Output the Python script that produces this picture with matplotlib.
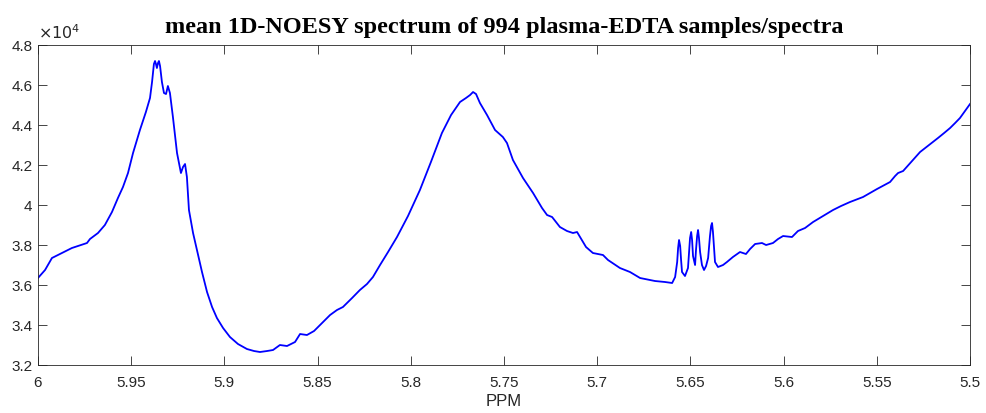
import numpy as np
import matplotlib.pyplot as plt
from matplotlib.ticker import FuncFormatter

# mean spectrum (ppm, intensity)
ppm = [6.0000, 5.9962, 5.9925, 5.9871, 5.9818, 5.9737, 5.9721, 5.9678, 5.9641, 5.9603,
       5.9571, 5.9544, 5.9517, 5.9490, 5.9453, 5.9421, 5.9399, 5.9388, 5.9378, 5.9372,
       5.9367, 5.9362, 5.9356, 5.9351, 5.9345, 5.9335, 5.9324, 5.9313, 5.9303, 5.9292,
       5.9276, 5.9254, 5.9233, 5.9222, 5.9211, 5.9201, 5.9190, 5.9168, 5.9147, 5.9120,
       5.9093, 5.9066, 5.9040, 5.9007, 5.8970, 5.8927, 5.8879, 5.8841, 5.8809, 5.8771,
       5.8739, 5.8702, 5.8664, 5.8621, 5.8594, 5.8557, 5.8519, 5.8487, 5.8433, 5.8396,
       5.8364, 5.8315, 5.8273, 5.8235, 5.8203, 5.8165, 5.8122, 5.8074, 5.8015, 5.7951,
       5.7892, 5.7833, 5.7784, 5.7736, 5.7704, 5.7682, 5.7666, 5.7650, 5.7629, 5.7591,
       5.7548, 5.7506, 5.7484, 5.7452, 5.7398, 5.7344, 5.7296, 5.7269, 5.7242, 5.7200,
       5.7162, 5.7130, 5.7108, 5.7092, 5.7060, 5.7023, 5.6969, 5.6942, 5.6878, 5.6824,
       5.6770, 5.6690, 5.6636, 5.6598, 5.6582, 5.6571, 5.6566, 5.6561, 5.6555, 5.6550,
       5.6545, 5.6529, 5.6513, 5.6507, 5.6502, 5.6496, 5.6491, 5.6486, 5.6475, 5.6470,
       5.6464, 5.6459, 5.6454, 5.6448, 5.6438, 5.6427, 5.6416, 5.6405, 5.6395, 5.6389,
       5.6384, 5.6379, 5.6373, 5.6368, 5.6352, 5.6325, 5.6304, 5.6272, 5.6234, 5.6202,
       5.6180, 5.6153, 5.6116, 5.6094, 5.6057, 5.6030, 5.6003, 5.5955, 5.5923, 5.5885,
       5.5842, 5.5789, 5.5735, 5.5692, 5.5644, 5.5574, 5.5499, 5.5429, 5.5402, 5.5386,
       5.5359, 5.5316, 5.5268, 5.5220, 5.5172, 5.5139, 5.5107, 5.5080, 5.5054, 5.5027,
       5.5000]
intensity = [36350, 36750, 37350, 37600, 37850, 38100, 38300, 38600, 39000, 39650,
             40350, 40900, 41600, 42600, 43750, 44650, 45350, 46150, 47050, 47200,
             47050, 46850, 47100, 47200, 46950, 46150, 45600, 45550, 45950, 45600,
             44400, 42600, 41600, 41900, 42050, 41400, 39750, 38600, 37750, 36650,
             35650, 34900, 34350, 33850, 33400, 33050, 32800, 32700, 32650, 32700,
             32750, 33000, 32950, 33150, 33550, 33500, 33700, 34000, 34500, 34750,
             34900, 35350, 35750, 36050, 36400, 37000, 37650, 38400, 39450, 40750,
             42150, 43600, 44500, 45150, 45350, 45500, 45650, 45550, 45100, 44500,
             43750, 43400, 43100, 42250, 41350, 40600, 39850, 39500, 39400, 38900,
             38700, 38600, 38650, 38400, 37900, 37600, 37500, 37250, 36850, 36650,
             36350, 36200, 36150, 36100, 36400, 37150, 37850, 38250, 37950, 37250,
             36650, 36450, 36850, 37650, 38350, 38650, 38250, 37450, 37000, 37750,
             38450, 38750, 38350, 37650, 37000, 36750, 36950, 37350, 38450, 38950,
             39100, 38650, 37850, 37150, 36900, 37000, 37150, 37400, 37650, 37550,
             37800, 38050, 38100, 38000, 38100, 38300, 38450, 38400, 38700, 38850,
             39150, 39450, 39750, 39950, 40150, 40400, 40800, 41150, 41450, 41600,
             41700, 42150, 42650, 43000, 43350, 43600, 43850, 44100, 44350, 44700,
             45050]

x_ticks = [6, 5.95, 5.9, 5.85, 5.8, 5.75, 5.7, 5.65, 5.6, 5.55, 5.5]
y_ticks = [32000, 34000, 36000, 38000, 40000, 42000, 44000, 46000, 48000]

plt.rcParams['font.family'] = ['Liberation Sans', 'DejaVu Sans']
fig = plt.figure(figsize=(9.86, 4.13), dpi=100)
ax = fig.add_axes([0.0385, 0.1162, 0.9453, 0.7748])

ax.plot(ppm, intensity, color=(0, 0, 1), lw=1.3)

ax.set_xlim(6, 5.5)
ax.set_ylim(32000, 48000)
ax.set_xticks(x_ticks)
ax.set_yticks(y_ticks)
ax.xaxis.set_major_formatter(FuncFormatter(lambda v, p: '%g' % v))
ax.yaxis.set_major_formatter(FuncFormatter(lambda v, p: '%g' % (v / 1e4)))
ax.tick_params(direction='in', length=6.5, width=0.6, top=True, right=True,
               labelsize=11, colors='#262626')
ax.tick_params(axis='x', pad=8)
ax.tick_params(axis='y', pad=4)
for s in ax.spines.values():
    s.set_linewidth(0.6)
    s.set_color('#262626')

ax.text(0.0, 1.008, r'$\times10^{4}$', transform=ax.transAxes, fontsize=11.5,
        color='#262626', ha='left', va='bottom')
ax.set_xlabel('PPM', fontsize=12, color='#262626', labelpad=3)
ax.set_title('mean 1D-NOESY spectrum of 994 plasma-EDTA samples/spectra',
             fontsize=17.5, fontweight='bold', family='Liberation Serif', pad=9)

fig.savefig('out.png', dpi=100)
